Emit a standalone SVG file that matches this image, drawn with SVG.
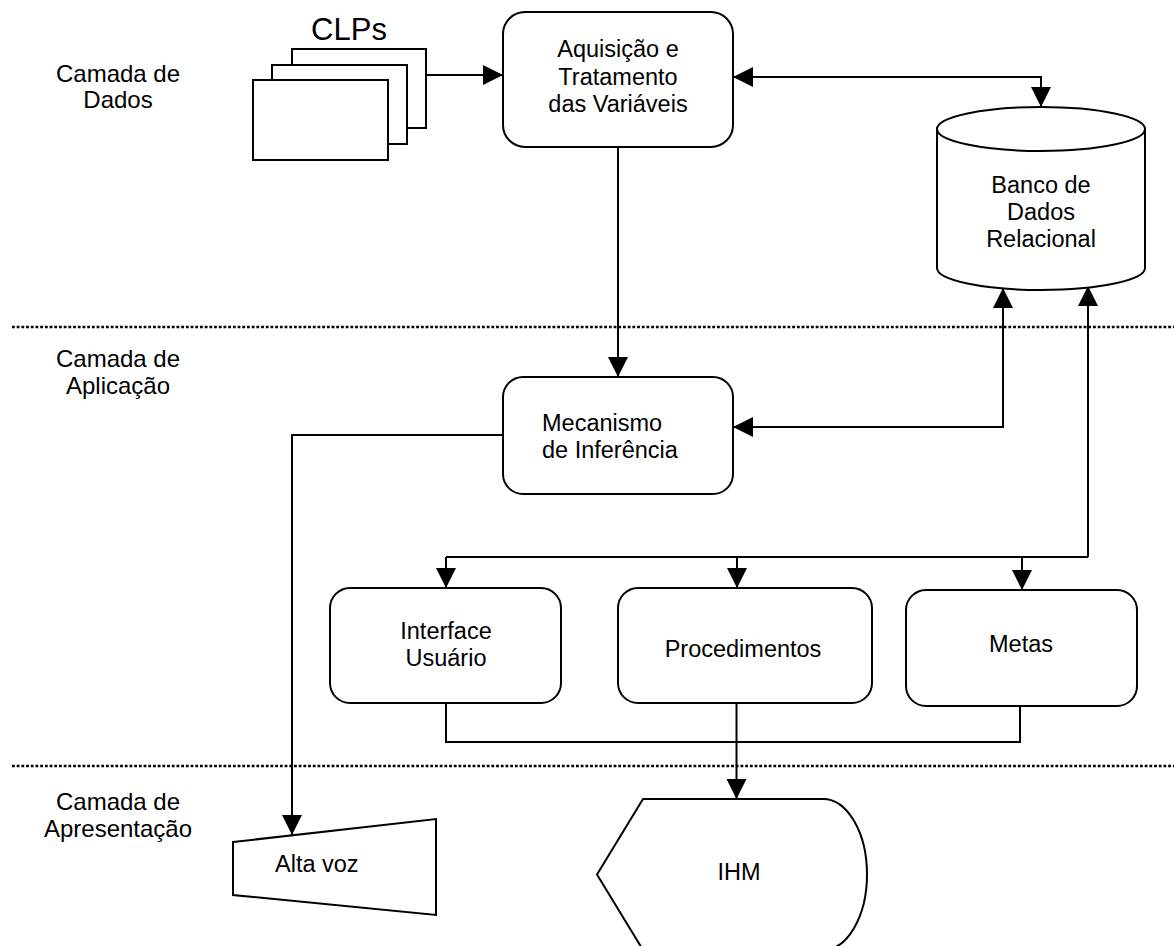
<svg xmlns="http://www.w3.org/2000/svg" width="1174" height="946" viewBox="0 0 1174 946">
  <style>
    text { font-family: "Liberation Sans", Arial, sans-serif; fill: #000; }
    .lbl { font-size: 24px; text-anchor: middle; }
    .txt { font-size: 23.5px; text-anchor: middle; }
    .txt.left { text-anchor: start; }
    .shape { fill: #fff; stroke: #000; stroke-width: 2; }
    .wire { fill: none; stroke: #000; stroke-width: 2; }
    .arrow { fill: none; stroke: #000; stroke-width: 2; marker-end: url(#head); }
    .both { fill: none; stroke: #000; stroke-width: 2; marker-start: url(#head); marker-end: url(#head); }
    .sep { fill: none; stroke: #000; stroke-width: 2.6; stroke-dasharray: 2.8 1.9; }
  </style>
  <defs>
    <marker id="head" markerUnits="userSpaceOnUse" markerWidth="20" markerHeight="20" refX="20" refY="10" orient="auto-start-reverse">
      <path d="M0,0 L20,10 L0,20 Z" fill="#000"/>
    </marker>
  </defs>
  <rect width="1174" height="946" fill="#fff"/>

  <!-- layer separators and labels -->
  <g id="layers">
    <line class="sep" x1="12" y1="327" x2="1174" y2="327"/>
    <line class="sep" x1="12" y1="766" x2="1174" y2="766"/>
    <text class="lbl" x="118" y="82">Camada de</text>
    <text class="lbl" x="118" y="108">Dados</text>
    <text class="lbl" x="118" y="367">Camada de</text>
    <text class="lbl" x="118" y="394">Aplicação</text>
    <text class="lbl" x="118" y="810">Camada de</text>
    <text class="lbl" x="118" y="837">Apresentação</text>
  </g>

  <!-- connectors -->
  <g id="connectors">
    <path class="arrow" d="M426,75 L503,75"/>
    <path class="both" d="M733,77 L1041,77 L1041,107"/>
    <path class="arrow" d="M618,147 L618,377"/>
    <path class="both" d="M733,427 L1003,427 L1003,288"/>
    <path class="arrow" d="M1088,557 L1088,286"/>
    <path class="wire" d="M446,557 L1088,557"/>
    <path class="arrow" d="M446,557 L446,588"/>
    <path class="arrow" d="M737,557 L737,588"/>
    <path class="arrow" d="M1022,557 L1022,590"/>
    <path class="arrow" d="M503,435 L292,435 L292,835"/>
    <path class="wire" d="M446,703 L446,742 L1020,742 L1020,706"/>
    <path class="arrow" d="M736.5,703 L736.5,799"/>
  </g>

  <g id="clps">
    <rect class="shape" x="292" y="49" width="134" height="79"/>
    <rect class="shape" x="272" y="65" width="135" height="79"/>
    <rect class="shape" x="253" y="80" width="135" height="80"/>
    <text x="349" y="40" font-size="31" text-anchor="middle">CLPs</text>
  </g>

  <g id="aquisicao">
    <rect class="shape" x="503" y="12" width="230" height="135" rx="22"/>
    <text class="txt" x="618" y="57">Aquisição e</text>
    <text class="txt" x="618" y="85">Tratamento</text>
    <text class="txt" x="618" y="112">das Variáveis</text>
  </g>

  <g id="banco">
    <path class="shape" d="M937,129 A104,22 0 0 1 1145,129 L1145,268 A104,22 0 0 1 937,268 Z"/>
    <path class="wire" d="M937,129 A104,22 0 0 0 1145,129"/>
    <text class="txt" x="1041" y="193">Banco de</text>
    <text class="txt" x="1041" y="220">Dados</text>
    <text class="txt" x="1041" y="247">Relacional</text>
  </g>

  <g id="mecanismo">
    <rect class="shape" x="503" y="377" width="230" height="117" rx="20"/>
    <text class="txt left" x="542" y="431">Mecanismo</text>
    <text class="txt left" x="542" y="458">de Inferência</text>
  </g>

  <g id="interface">
    <rect class="shape" x="330" y="588" width="231" height="115" rx="20"/>
    <text class="txt" x="446" y="639">Interface</text>
    <text class="txt" x="446" y="666">Usuário</text>
  </g>

  <g id="procedimentos">
    <rect class="shape" x="618" y="588" width="254" height="115" rx="20"/>
    <text class="txt" x="743" y="657">Procedimentos</text>
  </g>

  <g id="metas">
    <rect class="shape" x="906" y="590" width="231" height="116" rx="20"/>
    <text class="txt" x="1021" y="652">Metas</text>
  </g>

  <g id="altavoz">
    <polygon class="shape" stroke-width="1.6" points="233,842 436,819 436,915 233,895"/>
    <text class="txt left" x="275" y="872">Alta voz</text>
  </g>

  <g id="ihm">
    <path class="shape" d="M643,799 L823,799 A44,75.5 0 0 1 823,950 L643,950 L597,874.5 Z"/>
    <text class="txt" x="739" y="880">IHM</text>
  </g>
</svg>
